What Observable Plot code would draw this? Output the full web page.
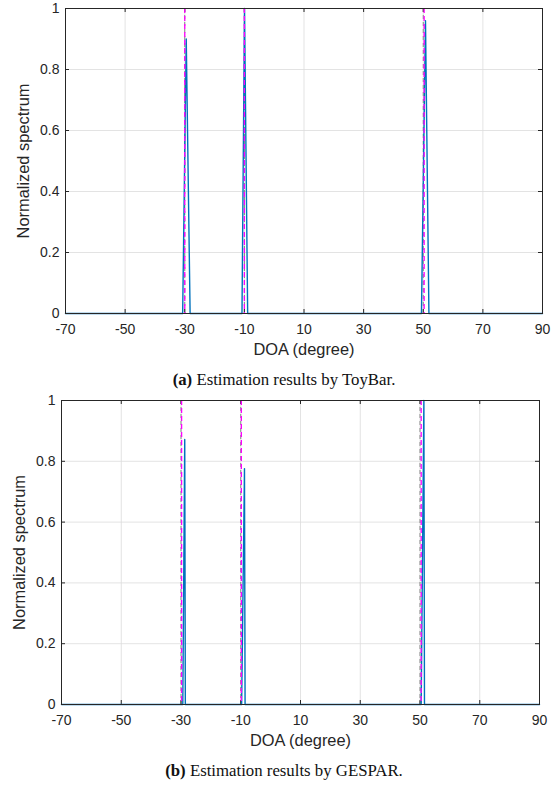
<!DOCTYPE html>
<html>
<head>
<meta charset="utf-8">
<script src="https://cdn.jsdelivr.net/npm/d3@7"></script>
<script src="https://cdn.jsdelivr.net/npm/@observablehq/plot@0.6"></script>
<style>
  html, body { margin: 0; padding: 0; background: #fff; }
  body { width: 556px; }
  .cap { font-family: "Liberation Serif", "Times New Roman", serif; font-size: 16.8px; color: #111; text-align: center; width: 556px; box-sizing: border-box; padding-left: 12px; line-height: 20px; }
  svg { display: block; }
</style>
</head>
<body>
<div id="a"></div>
<div class="cap" style="height:30px;padding-top:8px;box-sizing:border-box;"><b>(a)</b> Estimation results by ToyBar.</div>
<div id="b"></div>
<div class="cap" style="padding-top:8px;"><b>(b)</b> Estimation results by GESPAR.</div>
<script>
// ---- data ----
const xTicks = [-70, -50, -30, -10, 10, 30, 50, 70, 90];
const yTicks = [0, 0.2, 0.4, 0.6, 0.8, 1];
const trueDoa = [-30, -10, 50];
const xLabel = "DOA (degree)";
const yLabel = "Normalized spectrum";

// ToyBar spectrum (degree, normalized value)
const toyDeg = [-70, -30.7, -29.5, -28.2, -10.8, -9.95, -8.9, 49.4, 50.75, 51.9, 90];
const toyVal = [0, 0, 0.9, 0, 0, 1.0, 0, 0, 0.96, 0, 0];
const toyEst = [-30, -10, 50.3];

// GESPAR spectrum
const gesDeg = [-70, -29.4, -28.75, -28.55, -9.7, -8.75, -8.55, 50.4, 51.3, 51.5, 90];
const gesVal = [0, 0, 0.872, 0, 0, 0.776, 0, 0, 1.0, 0, 0];
const gesEst = [-29.8, -9.8, 50.4];

const FONT = '"Liberation Sans", Arial, Helvetica, sans-serif';

function panel(deg, val, est, opts) {
  const spec = deg.map((d, i) => ({deg: d, val: val[i]}));
  const plotH = opts.height - opts.mt - opts.mb;
  const plotW = 556 - opts.ml - opts.mr;
  const ty = 4 / plotH;          // inward tick length in y units
  const tx = 4 * 160 / plotW;    // inward tick length in x units
  return Plot.plot({
    width: 556,
    height: opts.height,
    marginTop: opts.mt,
    marginBottom: opts.mb,
    marginLeft: opts.ml,
    marginRight: opts.mr,
    style: {fontFamily: FONT, fontSize: "14px", color: "#262626", background: "#fff"},
    x: {domain: [-70, 90], ticks: xTicks, tickFormat: d => String(d)},
    y: {domain: [0, 1], ticks: yTicks, tickFormat: d => String(d)},
    marks: [
      Plot.gridX(xTicks, {stroke: "#dcdcdc", strokeOpacity: 1, strokeWidth: 0.8}),
      Plot.gridY(yTicks, {stroke: "#dcdcdc", strokeOpacity: 1, strokeWidth: 0.8}),
      Plot.axisX({ticks: xTicks, tickFormat: d => String(d), tickSize: 0, tickPadding: 11, fontSize: 14, label: null}),
      Plot.axisY({ticks: yTicks, tickFormat: d => String(d), tickSize: 0, tickPadding: 6, fontSize: 14, label: null}),
      Plot.text([xLabel], {text: d => d, frameAnchor: "bottom", textAnchor: "middle", dy: 41, fontSize: 16.4, fill: "#262626"}),
      Plot.text([yLabel], {text: d => d, frameAnchor: "left", textAnchor: "middle", rotate: -90, dx: -42, fontSize: 16.4, fill: "#262626"}),
      // inward ticks on all four sides
      Plot.ruleX(xTicks, {x: d => d, y1: 0, y2: ty, stroke: "#262626"}),
      Plot.ruleX(xTicks, {x: d => d, y1: 1, y2: 1 - ty, stroke: "#262626"}),
      Plot.ruleY(yTicks, {y: d => d, x1: -70, x2: -70 + tx, stroke: "#262626"}),
      Plot.ruleY(yTicks, {y: d => d, x1: 90, x2: 90 - tx, stroke: "#262626"}),
      Plot.ruleX(trueDoa, {stroke: "#333", strokeOpacity: 0.55, strokeWidth: 1, strokeDasharray: "4,3"}),
      Plot.line(spec, {x: "deg", y: "val", stroke: "#0072BD", strokeWidth: 1.4}),
      Plot.ruleX(est, {stroke: "#FF00FF", strokeWidth: 1.3, strokeDasharray: "5,3"}),
      Plot.frame({stroke: "#262626", strokeWidth: 1})
    ]
  });
}

document.getElementById("a").append(panel(toyDeg, toyVal, toyEst, {height: 362, mt: 8, mb: 49, ml: 65, mr: 14}));
document.getElementById("b").append(panel(gesDeg, gesVal, gesEst, {height: 361, mt: 8, mb: 49, ml: 61, mr: 17}));
</script>
</body>
</html>
